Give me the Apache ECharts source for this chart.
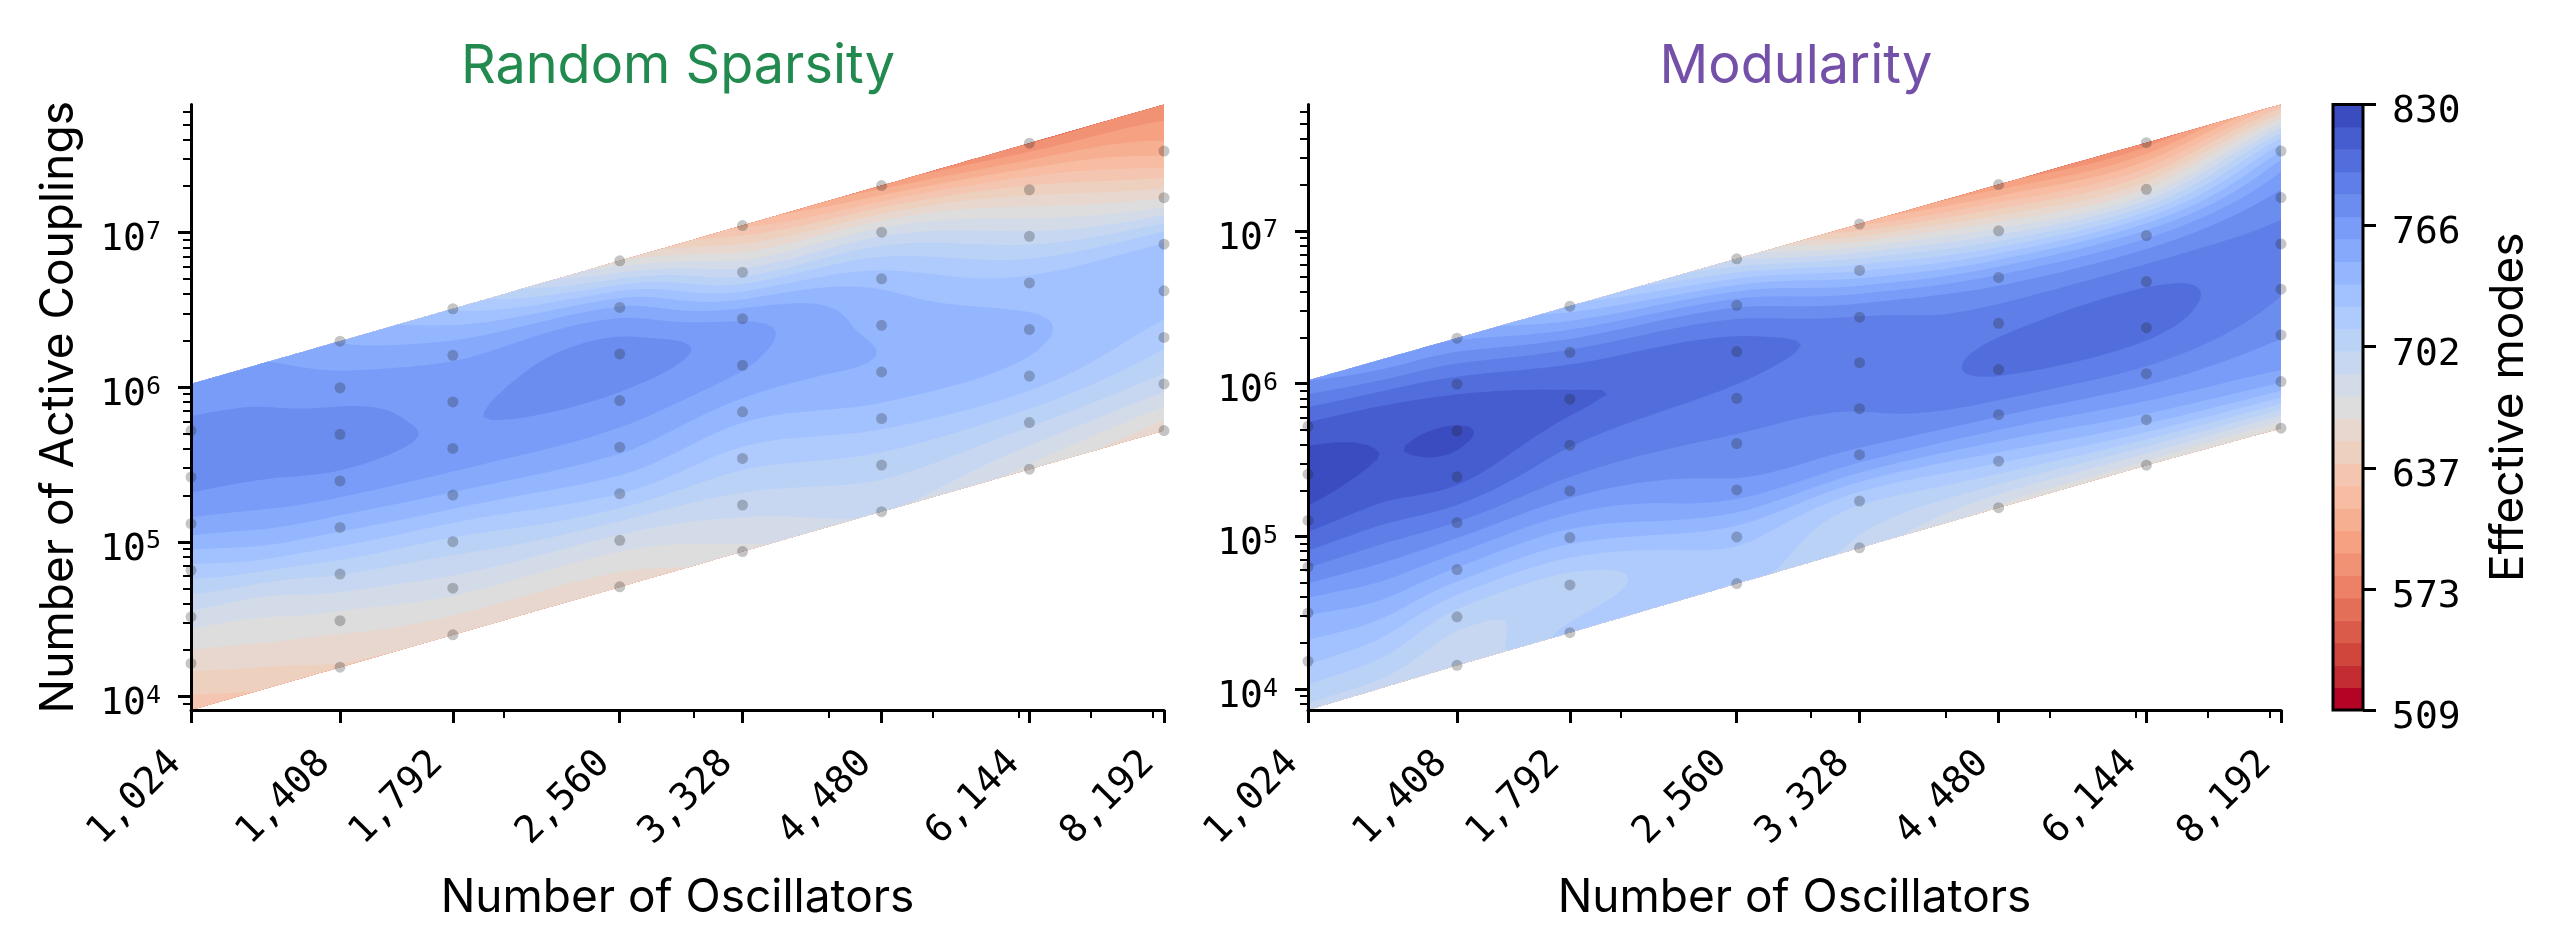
<!DOCTYPE html>
<html><head><meta charset="utf-8">
<style>html,body{margin:0;padding:0;background:#fff}#c{width:2560px;height:952px}</style>
<script src="https://cdn.jsdelivr.net/npm/echarts@6/dist/echarts.min.js"></script>
</head><body><div id="c"></div>
<script>
// ---- data ----
const oscillators = [1024, 1408, 1792, 2560, 3328, 4480, 6144, 8192];
const minorOscillators = [2000, 3000, 4000, 5000, 6000, 7000, 8000];
// columns whose colour was read: the measured sizes plus one extra reading at 1,200
const readColumns = [1024, 1200, 1408, 1792, 2560, 3328, 4480, 6144, 8192];
const couplingsRandom = [
 [1048576,524288,262144,131072,65536,32768,16384,8192],
 [1440000,720000,360000,180000,90000,45000,22500,11250],
 [1982464,991232,495616,247808,123904,61952,30976,15488],
 [3211264,1605632,802816,401408,200704,100352,50176,25088],
 [6553600,3276800,1638400,819200,409600,204800,102400,51200],
 [11075584,5537792,2768896,1384448,692224,346112,173056,86528],
 [20070400,10035200,5017600,2508800,1254400,627200,313600,156800],
 [37748736,18874368,9437184,4718592,2359296,1179648,589824,294912],
 [67108864,33554432,16777216,8388608,4194304,2097152,1048576,524288]
];
const couplingsModularity = [
 [1048576,524288,255000,127000,63000,31500,15200,7300],
 [1440000,720000,355000,177000,88000,43700,21300,10200],
 [1982464,991232,490000,245000,123000,60500,29700,14300],
 [3211264,1600000,790000,395000,198000,98000,48000,23400],
 [6553600,3250000,1620000,800000,405000,201000,99000,49000],
 [11075584,5500000,2720000,1370000,685000,342000,170000,84000],
 [20070400,10000000,4950000,2480000,1235000,625000,310000,154000],
 [37748736,18700000,9300000,4650000,2320000,1160000,580000,292000],
 [67108864,33300000,16500000,8200000,4150000,2080000,1030000,510000]
];
const modesRandom = [
 [760,774,775,755,718,683,656,632],
 [759,771,775,762,732,688,664,641],
 [746,765,775,767,738,700,670,650],
 [722,756,768,767.5,745,708,680,652],
 [665,748,776,768,750,723,683,655],
 [625,693,757,760,740,717,693,672],
 [598,682,729,744,745,728,705,688],
 [580,645,692,727,736,730,702,672],
 [583,612,663,724,730,716,693,655]
];
const modesModularity = [
 [770,809,824,812,783,748,725,695],
 [760,806,818,808,782,752,722,694],
 [757,800,819,810,782,745,706,688],
 [727,785,808,795,775,740,705,714],
 [685,768,800,790,780,765,727,715],
 [625,722,783,785,783,766,714,695],
 [595,680,762,790,796,772,725,672],
 [585,665,755,792,797.5,778,740,668],
 [632,735,775,785,783.5,772,748,662]
];
const missingDots = [[1024,0],[1024,7],[8192,0]];
const xTickLabels = ['1,024','1,408','1,792','2,560','3,328','4,480','6,144','8,192'];
const yMajor = [1e4,1e5,1e6,1e7];
const yMinor = [8e3,9e3,2e4,3e4,4e4,5e4,6e4,7e4,8e4,9e4,2e5,3e5,4e5,5e5,6e5,7e5,8e5,9e5,2e6,3e6,4e6,5e6,6e6,7e6,8e6,9e6,2e7,3e7,4e7,5e7,6e7];
const colorbarTicks = [509,573.2,637.4,701.6,765.8,830];
const levelMin = 509, levelMax = 830, bandCount = 27;
const coolwarm = [[59,76,192],[68,90,204],[77,104,215],[87,117,225],[98,130,234],[108,142,241],[119,154,247],[130,165,251],[141,176,254],[152,185,255],[163,194,255],[174,201,253],[184,208,249],[194,213,244],[204,217,238],[213,219,230],[221,221,221],[229,216,209],[236,211,197],[241,204,185],[245,196,173],[247,187,160],[247,177,148],[247,166,135],[244,154,123],[241,141,111],[236,127,99],[229,112,88],[222,96,77],[213,80,66],[203,62,56],[192,40,47],[180,4,38]];

// ---- helpers ----
const step = (levelMax-levelMin)/bandCount;
function bandColor(b){ // b=0 lowest value -> red end, b=26 -> blue end
  const t=(1-b/(bandCount-1))*(coolwarm.length-1), i=Math.min(Math.floor(t),coolwarm.length-2), f=t-i;
  const c=coolwarm[i].map((v,k)=>Math.round(v+(coolwarm[i+1][k]-v)*f));
  return 'rgb('+c.join(',')+')';
}
const lx = readColumns.map(Math.log2);
function hermite1D(ps,vs,p,idx,f){
  const n=vs.length;
  const tan=k=>k===0?(vs[1]-vs[0])/(ps[1]-ps[0]):k===n-1?(vs[n-1]-vs[n-2])/(ps[n-1]-ps[n-2]):(vs[k+1]-vs[k-1])/(ps[k+1]-ps[k-1]);
  const h=ps[idx+1]-ps[idx], f2=f*f,f3=f2*f;
  return (2*f3-3*f2+1)*vs[idx]+(f3-2*f2+f)*h*tan(idx)+(-2*f3+3*f2)*vs[idx+1]+(f3-f2)*h*tan(idx+1);
}
const SX=10, SY=8;
function buildMesh(vals,ys){
  const nx=(lx.length-1)*SX+1, ny=7*SY+1, V=[], X=[], Y=[];
  const rowIdx=[0,1,2,3,4,5,6,7];
  for(let i=0;i<nx;i++){
    const c=Math.min(Math.floor(i/SX),lx.length-2), f=i/SX-c, p=lx[c]+(lx[c+1]-lx[c])*f;
    const colV=rowIdx.map(r=>hermite1D(lx,vals.map(v=>v[r]),p,c,f));
    const colY=rowIdx.map(r=>Math.log10(ys[c][r])*(1-f)+Math.log10(ys[c+1][r])*f);
    const vv=[],xx=[],yy=[];
    for(let j=0;j<ny;j++){
      const d=Math.min(Math.floor(j/SY),6), g=j/SY-d;
      vv.push(hermite1D(rowIdx,colV,d+g,d,g));
      yy.push(Math.pow(10,colY[d]*(1-g)+colY[d+1]*g));
      xx.push(Math.pow(2,p));
    }
    V.push(vv);X.push(xx);Y.push(yy);
  }
  return {V,X,Y,nx,ny};
}
function contourRenderer(vals,ys){
  const mesh=buildMesh(vals,ys); let pix=null;
  return function(params,api){
    if(params.dataIndex===0||!pix){
      pix=mesh.X.map((col,i)=>col.map((x,j)=>api.coord([x,mesh.Y[i][j]])));
    }
    const b=api.value(0), L=levelMin+b*step, parts=[];
    const fmt=q=>q[0].toFixed(1)+' '+q[1].toFixed(1);
    for(let i=0;i<mesh.nx-1;i++){
      let run=-1;
      const flush=j=>{ if(run>=0){parts.push('M'+fmt(pix[i][run])+'L'+fmt(pix[i+1][run])+'L'+fmt(pix[i+1][j])+'L'+fmt(pix[i][j])+'Z');run=-1;} };
      for(let j=0;j<mesh.ny-1;j++){
        const idx=[[i,j],[i+1,j],[i+1,j+1],[i,j+1]], v=idx.map(q=>mesh.V[q[0]][q[1]]);
        if(b===0||v.every(x=>x>=L)){ if(run<0)run=j; continue; }
        flush(j);
        if(v.every(x=>x<L)) continue;
        const poly=[];
        for(let k=0;k<4;k++){
          const n=(k+1)%4,a=pix[idx[k][0]][idx[k][1]],c=pix[idx[n][0]][idx[n][1]];
          if(v[k]>=L) poly.push(a);
          if((v[k]>=L)!==(v[n]>=L)){const t=(L-v[k])/(v[n]-v[k]);poly.push([a[0]+(c[0]-a[0])*t,a[1]+(c[1]-a[1])*t]);}
        }
        parts.push('M'+poly.map(fmt).join('L')+'Z');
      }
      flush(mesh.ny-1);
    }
    return {type:'path',shape:{pathData:parts.join('')||'M0 0Z'},style:{fill:bandColor(b)},silent:true};
  };
}
const bandsData = Array.from({length:bandCount},(_,b)=>[b]);
function dots(ys){
  const out=[];
  readColumns.forEach((x,i)=>{
    if(!oscillators.includes(x)) return;
    ys[i].forEach((y,r)=>{ if(!missingDots.some(m=>m[0]===x&&m[1]===r)) out.push([x,y]); });
  });
  return out;
}
const F='"DejaVu Sans Mono", monospace', T='Inter, "Noto Sans", sans-serif';
const axisLineStyle={color:'#000',width:3};
function panel(g,yMin){
  return {
    x:[
     {gridIndex:g,type:'log',logBase:2,min:1024,max:8192,position:'bottom',z:10,name:'Number of Oscillators',nameLocation:'middle',nameGap:165,
      nameTextStyle:{fontFamily:T,fontSize:46,color:'#000'},
      axisLine:{onZero:false,lineStyle:axisLineStyle},splitLine:{show:false},
      axisTick:{length:13,lineStyle:{color:'#000',width:3},customValues:oscillators},
      axisLabel:{rotate:45,customValues:oscillators,margin:32,padding:[0,22,0,0],fontFamily:F,fontSize:38,color:'#000',showMinLabel:true,showMaxLabel:true,hideOverlap:false,
        formatter:v=>xTickLabels[oscillators.findIndex(o=>Math.abs(o-v)<1)]||''}},
     {gridIndex:g,type:'log',logBase:2,min:1024,max:8192,position:'bottom',z:10,axisLine:{show:false,onZero:false},splitLine:{show:false},
      axisTick:{length:8,lineStyle:{color:'#000',width:2},customValues:minorOscillators},axisLabel:{show:false}}
    ],
    y:[
     {gridIndex:g,type:'log',logBase:10,min:yMin,max:67108864,position:'left',z:10,splitLine:{show:false},
      axisLine:{onZero:false,lineStyle:axisLineStyle},
      axisTick:{length:13,lineStyle:{color:'#000',width:3},customValues:yMajor},
      axisLabel:{customValues:yMajor,margin:30,padding:[16,0,0,0],fontFamily:F,fontSize:38,color:'#000',
        formatter:v=>'{a|10}{b|'+Math.round(Math.log10(v))+'}',
        rich:{a:{fontFamily:F,fontSize:38,color:'#000'},b:{fontFamily:F,fontSize:25,color:'#000',verticalAlign:'bottom',padding:[0,0,16,0]}}}},
     {gridIndex:g,type:'log',logBase:10,min:yMin,max:67108864,position:'left',z:10,axisLine:{show:false,onZero:false},splitLine:{show:false},
      axisTick:{length:8,lineStyle:{color:'#000',width:2},customValues:yMinor},axisLabel:{show:false}}
    ]
  };
}
const p1=panel(0,8192), p2=panel(1,7290);
p1.y[0].name='Number of Active Couplings';p1.y[0].nameLocation='middle';p1.y[0].nameGap=109;
p1.y[0].nameTextStyle={fontFamily:T,fontSize:46,color:'#000'};
function contourSeries(g,xi,yi,vals,ys){
  return [
   {type:'custom',xAxisIndex:xi,yAxisIndex:yi,data:bandsData,encode:{x:0,y:0},renderItem:contourRenderer(vals,ys),clip:true,animation:false,silent:true,z:2},
   {type:'scatter',xAxisIndex:xi,yAxisIndex:yi,data:dots(ys),symbolSize:11,itemStyle:{color:'rgba(30,30,30,0.32)'},clip:true,animation:false,silent:true,z:5}
  ];
}
const option={
  animation:false,backgroundColor:'#fff',
  title:[
   {text:'Random Sparsity',left:673,top:62,textAlign:'center',textVerticalAlign:'middle',textStyle:{fontFamily:T,fontSize:54,fontWeight:'normal',color:'#228a4f'}},
   {text:'Modularity',left:1791,top:62,textAlign:'center',textVerticalAlign:'middle',textStyle:{fontFamily:T,fontSize:54,fontWeight:'normal',color:'#7450a8'}}
  ],
  grid:[
   {left:191,width:973,top:104.5,height:605.5},
   {left:1308,width:973,top:104.5,height:605.5},
   {left:2333,width:30,top:104.5,height:605.5}
  ],
  xAxis:[...p1.x,...p2.x,{gridIndex:2,type:'value',min:0,max:1,show:false}],
  yAxis:[...p1.y,...p2.y,{gridIndex:2,type:'value',min:levelMin,max:levelMax,position:'right',z:10,
    name:'Effective modes',nameLocation:'middle',nameGap:123,nameRotate:90,nameTextStyle:{fontFamily:T,fontSize:46,color:'#000'},
    splitLine:{show:false},axisLine:{show:false,onZero:false},
    axisTick:{length:13,lineStyle:{color:'#000',width:3},customValues:colorbarTicks},
    axisLabel:{customValues:colorbarTicks,margin:29,padding:[16,0,0,0],fontFamily:F,fontSize:38,color:'#000',showMinLabel:true,showMaxLabel:true,
      formatter:v=>'{a|'+Math.round(v)+'}',rich:{a:{fontFamily:F,fontSize:38,color:'#000'}}}}],
  series:[
   ...contourSeries(0,0,0,modesRandom,couplingsRandom),
   ...contourSeries(1,2,2,modesModularity,couplingsModularity),
   {type:'custom',xAxisIndex:4,yAxisIndex:4,data:bandsData,encode:{y:0},animation:false,silent:true,z:1,clip:false,
    renderItem:(p,api)=>{const b=api.value(0),a=api.coord([0,levelMin+b*step]),c=api.coord([1,levelMin+(b+1)*step]);
      const rect={type:'rect',shape:{x:a[0],y:c[1],width:c[0]-a[0],height:a[1]-c[1]+0.5},style:{fill:bandColor(b)},silent:true};
      if(b<bandCount-1) return rect;
      const lo=api.coord([0,levelMin]),hi=api.coord([1,levelMax]);
      return {type:'group',children:[rect,{type:'rect',shape:{x:lo[0],y:hi[1],width:hi[0]-lo[0],height:lo[1]-hi[1]},style:{fill:'none',stroke:'#000',lineWidth:3},silent:true}]};}}
  ]
};
const chart=echarts.init(document.getElementById('c'),null,{renderer:'canvas',width:2560,height:952});
chart.setOption(option);
</script></body></html>
